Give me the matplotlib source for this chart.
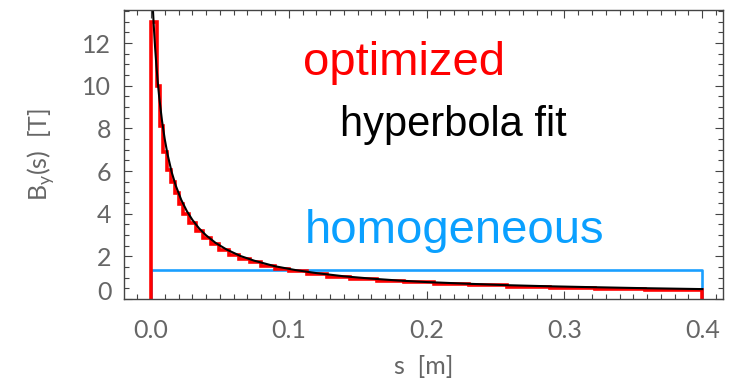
import matplotlib.pyplot as plt
from matplotlib.ticker import MultipleLocator
from matplotlib.transforms import ScaledTranslation

# Bordes de los segmentos del campo optimizado (m) y su campo (T)
bordes_s = [0.0, 0.0047, 0.0069, 0.0091, 0.0116, 0.0142, 0.0171, 0.0200,
            0.0236, 0.0279, 0.0327, 0.0377, 0.0436, 0.0497, 0.0566, 0.0642,
            0.0719, 0.0802, 0.0897, 0.1005, 0.1129, 0.1278, 0.1445, 0.1637,
            0.1837, 0.2054, 0.2305, 0.2584, 0.2897, 0.3223, 0.3586, 0.4]
campo_opt = [13.0, 10.0, 8.1, 6.9, 6.05, 5.5, 4.95, 4.45, 3.98, 3.55, 3.18,
             2.85, 2.56, 2.3, 2.08, 1.88, 1.72, 1.57, 1.43, 1.3, 1.18, 1.06,
             0.96, 0.87, 0.79, 0.71, 0.65, 0.59, 0.53, 0.48, 0.42]

# Ajuste hiperbolico
s_hip = [0.0, 0.001, 0.002, 0.003, 0.004, 0.005, 0.006, 0.008, 0.010, 0.012,
         0.015, 0.018, 0.022, 0.026, 0.030, 0.035, 0.040, 0.047, 0.055, 0.065,
         0.075, 0.090, 0.105, 0.120, 0.140, 0.160, 0.180, 0.200, 0.230, 0.260,
         0.290, 0.320, 0.360, 0.400]
campo_hip = [15.69, 14.13, 12.86, 11.80, 10.90, 10.13, 9.46, 8.37, 7.50, 6.80,
             5.96, 5.32, 4.65, 4.13, 3.72, 3.31, 2.99, 2.63, 2.32, 2.02,
             1.80, 1.54, 1.36, 1.22, 1.07, 0.96, 0.87, 0.80, 0.72, 0.65,
             0.60, 0.56, 0.51, 0.47]

# Campo homogeneo de la misma longitud
largo_hom = 0.4
campo_hom = 1.36

gris = "#666666"
plt.rcParams["font.family"] = ["Lato", "DejaVu Sans"]

fig = plt.figure(figsize=(7.29, 3.83), dpi=100)
ax = fig.add_axes([0.170, 0.219, 0.822, 0.755])

# Homogeneo: rectangulo abierto hasta el eje
ax.plot([0.0, 0.0, largo_hom, largo_hom], [0.0, campo_hom, campo_hom, 0.0],
        color="#1a9fff", linewidth=1.9)

# Optimizado: escalera cerrada hasta cero en los extremos
xs = [bordes_s[0]]
ys = [0.0]
for i, b in enumerate(campo_opt):
    xs += [bordes_s[i], bordes_s[i + 1]]
    ys += [b, b]
xs.append(bordes_s[-1])
ys.append(0.0)
ax.plot(xs, ys, color="red", linewidth=2.6, solid_joinstyle="miter")

ax.plot(s_hip, campo_hip, color="black", linewidth=1.5)

ax.set_xlim(-0.0196, 0.4152)
ax.set_ylim(0, 13.55)

ax.xaxis.set_major_locator(MultipleLocator(0.1))
ax.xaxis.set_minor_locator(MultipleLocator(0.01))
ax.yaxis.set_major_locator(MultipleLocator(2))
ax.yaxis.set_minor_locator(MultipleLocator(0.5))
ax.tick_params(which="both", direction="in", top=True, right=True,
               colors="#444444", width=0.8)
ax.tick_params(which="major", length=6)
ax.tick_params(which="minor", length=3.5)
ax.tick_params(axis="x", which="major", pad=14, labelsize=18, labelcolor=gris)
ax.tick_params(axis="y", which="major", pad=9, labelsize=18, labelcolor=gris)
ax.set_xticks([0.0, 0.1, 0.2, 0.3, 0.4])
ax.set_xticklabels(["0.0", "0.1", "0.2", "0.3", "0.4"])
for sp in ax.spines.values():
    sp.set_color("#444444")
    sp.set_linewidth(1.0)

# La etiqueta del cero sube un poco para no pisar el eje
fig.canvas.draw()
for lbl in ax.get_yticklabels():
    if lbl.get_text() in ("0", "−0"):
        lbl.set_transform(lbl.get_transform()
                          + ScaledTranslation(0, 6.5 / 72, fig.dpi_scale_trans))

ax.set_xlabel("s  [m]", fontsize=18, color=gris, labelpad=10)
ax.set_ylabel(r"B$_\mathregular{y}$(s)  [T]", fontsize=18, color=gris, labelpad=18)

ax.text(0.299, 0.775, "optimized", transform=ax.transAxes, color="red",
        fontsize=34, family="Liberation Sans",
        ha="left", va="baseline")
ax.text(0.361, 0.564, "hyperbola fit", transform=ax.transAxes, color="black",
        fontsize=30, family="Liberation Sans",
        ha="left", va="baseline")
ax.text(0.302, 0.194, "homogeneous", transform=ax.transAxes, color="#0aa0ff",
        fontsize=34, family="Liberation Sans",
        ha="left", va="baseline")

plt.savefig("out.png", dpi=100)
plt.close()
